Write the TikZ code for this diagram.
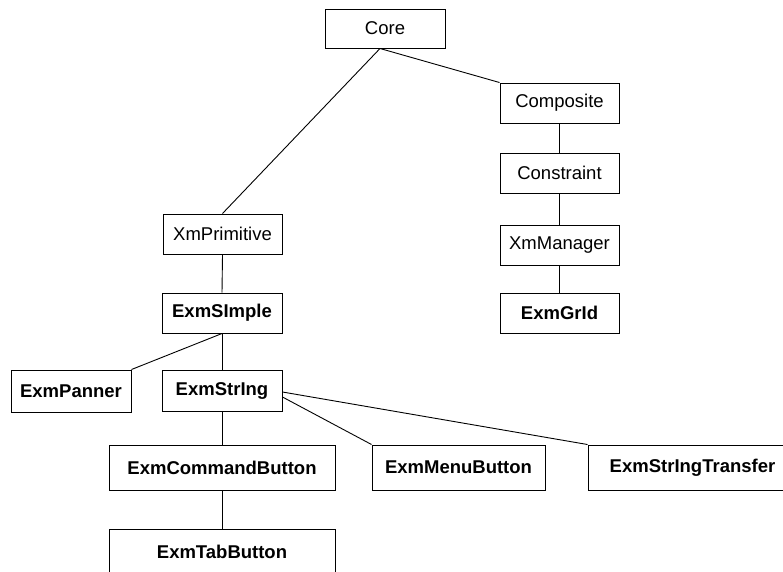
\documentclass[tikz,border=0pt]{standalone}
\usepackage{fontspec}
\setmainfont{Liberation Sans}
\begin{document}
\begin{tikzpicture}[x=1pt,y=-1pt,
  cls/.style={draw=black, line width=1pt, fill=white, inner sep=0pt,
    font=\fontsize{18.5}{22}\selectfont, minimum height=40pt, minimum width=119pt},
  ext/.style={cls, font=\fontsize{18.5}{22}\selectfont\bfseries},
  tall/.style={minimum height=45pt},
  link/.style={draw=black, line width=0.9pt}]
\useasboundingbox (0,0) rectangle (783,571);
\clip (0,0) rectangle (783,571);

% Intrinsics branch
\node[cls, minimum width=120pt, minimum height=39pt] (core) at (385,28.5) {Core};
\node[cls] (comp) at (559.5,103) {Composite};
\node[cls] (cons) at (559.5,173) {Constraint};
\node[cls] (mgr)  at (559.5,245) {XmManager};
\node[ext] (grid) at (559.5,313) {ExmGrId};

% Primitive widget branch
\node[cls] (prim)   at (222.5,234) {XmPrimitive};
\node[ext, minimum width=120pt] (simple) at (222,313) {ExmSImple};
\node[ext, minimum width=120pt, minimum height=42pt] (panner) at (71,391) {ExmPanner};
\node[ext, minimum width=120pt, minimum height=41pt] (strg) at (222,390.5) {ExmStrIng};
\node[ext, tall, minimum width=226pt] (cmd)  at (222,467.5) {ExmCommandButton};
\node[ext, tall, minimum width=173pt] (menu) at (458.5,467.5) {ExmMenuButton};
\node[ext, tall, minimum width=209pt] (xfer) at (692.5,467.5) {ExmStrIngTransfer};
\node[ext, tall, minimum width=226pt] (tab)  at (222,551.5) {ExmTabButton};

% Inheritance links
\draw[link] ([xshift=-5pt]core.south) -- (prim.north);
\draw[link] ([xshift=-5pt]core.south) -- (comp.north west);
\draw[link] (comp.south) -- (cons.north);
\draw[link] (cons.south) -- (mgr.north);
\draw[link] (mgr.south) -- (grid.north);
\draw[link] (prim.south) -- (simple.north);
\draw[link] (simple.south) -- (panner.north east);
\draw[link] (simple.south) -- (strg.north);
\draw[link] (strg.south) -- (cmd.north);
\draw[link] ([yshift=-6.5pt]strg.east) -- (menu.north west);
\draw[link] ([yshift=-1.5pt]strg.east) -- (xfer.north west);
\draw[link] (cmd.south) -- (tab.north);
\end{tikzpicture}
\end{document}
